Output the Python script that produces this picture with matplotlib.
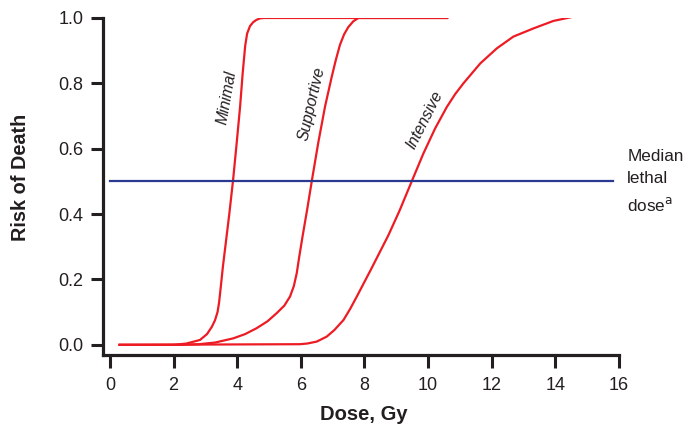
import matplotlib.pyplot as plt

plt.rcParams['font.family'] = ['Liberation Sans', 'DejaVu Sans']

# Risk of death curves
minimal_dose = [0.3, 2.0, 2.4, 2.83, 3.05, 3.2, 3.3, 3.38, 3.43, 3.48, 3.55, 3.65, 3.75,
                3.87, 3.98, 4.09, 4.17, 4.25, 4.31, 4.40, 4.5, 4.6, 4.72, 4.85, 5.03, 10.6]
minimal_risk = [0.0, 0.0, 0.004, 0.015, 0.033, 0.055, 0.075, 0.1, 0.13, 0.175, 0.24,
                0.32, 0.4, 0.505, 0.615, 0.729, 0.83, 0.915, 0.952, 0.975, 0.987, 0.994,
                0.999, 1.0, 1.0, 1.0]

supportive_dose = [0.3, 2.2, 2.8, 3.3, 3.88, 4.25, 4.61, 4.95, 5.24, 5.48, 5.66, 5.78,
                   5.87, 5.95, 6.05, 6.2, 6.35, 6.55, 6.76, 6.97, 7.1, 7.23, 7.36, 7.49,
                   7.65, 7.81, 10.6]
supportive_risk = [0.0, 0.0, 0.002, 0.007, 0.02, 0.033, 0.051, 0.072, 0.097, 0.12, 0.148,
                   0.18, 0.219, 0.27, 0.33, 0.415, 0.505, 0.62, 0.729, 0.82, 0.872, 0.918,
                   0.95, 0.972, 0.99, 1.0, 1.0]

intensive_dose = [0.3, 5.97, 6.2, 6.5, 6.81, 7.05, 7.34, 7.55, 7.76, 8.2, 8.75, 9.1,
                  9.48, 9.85, 10.22, 10.59, 10.85, 11.11, 11.64, 12.16, 12.68, 13.31,
                  13.94, 14.57, 15.04]
intensive_risk = [0.0, 0.002, 0.004, 0.01, 0.025, 0.045, 0.076, 0.11, 0.148, 0.23,
                  0.335, 0.41, 0.499, 0.585, 0.662, 0.728, 0.767, 0.80, 0.861, 0.907,
                  0.943, 0.968, 0.991, 1.004, 1.009]

median_dose = [0.0, 15.82]
median_risk = [0.5, 0.5]

curve_labels = ['Minimal', 'Supportive', 'Intensive']
label_pos = [(3.68, 0.758), (6.35, 0.737), (9.9, 0.688)]
label_rot = [80, 77, 63]

red = '#ed1c24'
blue = '#2b3990'
dark = '#231f20'

fig = plt.figure(figsize=(6.95, 4.28), dpi=100)
ax = fig.add_axes([0.1482, 0.1706, 0.7424, 0.7874])

ax.plot(minimal_dose, minimal_risk, color=red, lw=1.6)
ax.plot(supportive_dose, supportive_risk, color=red, lw=1.6)
ax.plot(intensive_dose, intensive_risk, color=red, lw=1.6)
ax.plot(median_dose, median_risk, color=blue, lw=1.6)

for txt, (x, y), r in zip(curve_labels, label_pos, label_rot):
    ax.text(x, y, txt, rotation=r, style='italic', fontsize=11.3, color=dark,
            ha='center', va='center', rotation_mode='anchor')

ax.text(16.26, 0.5, 'Median\nlethal\ndose$^{\\mathrm{a}}$', fontsize=12.3, color=dark,
        ha='left', va='center', linespacing=1.62, clip_on=False)

ax.set_xlim(-0.22, 16)
ax.set_ylim(-0.031, 1.0)
ax.set_xticks(range(0, 17, 2))
ax.set_yticks([0.0, 0.2, 0.4, 0.6, 0.8, 1.0])
ax.set_yticklabels(['0.0', '0.2', '0.4', '0.6', '0.8', '1.0'])

for s in ['top', 'right']:
    ax.spines[s].set_visible(False)
for s in ['left', 'bottom']:
    ax.spines[s].set_linewidth(2.3)
    ax.spines[s].set_color(dark)

ax.tick_params(axis='both', length=9, width=2.2, color=dark, labelsize=13,
               labelcolor=dark)
ax.tick_params(axis='y', pad=5)
ax.tick_params(axis='x', pad=7)

ax.set_xlabel('Dose, Gy', fontsize=14.5, fontweight='bold', color=dark)
ax.set_ylabel('Risk of Death', fontsize=14.3, fontweight='bold', color=dark)
ax.xaxis.set_label_coords(0.506, -0.148)
ax.yaxis.set_label_coords(-0.142, 0.528)

plt.savefig('out.png', dpi=100)
